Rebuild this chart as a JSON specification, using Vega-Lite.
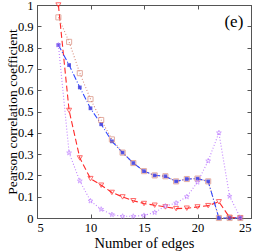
{
  "$schema": "https://vega.github.io/schema/vega-lite/v6.json",
  "width": 214,
  "height": 213,
  "autosize": {"type": "none"},
  "padding": {"left": 37, "top": 5, "right": 6, "bottom": 33},
  "config": {
    "view": {"stroke": "#555", "strokeWidth": 1},
    "font": "Liberation Serif",
    "axis": {
      "grid": false,
      "domainColor": "#555",
      "tickColor": "#555",
      "labelFont": "Liberation Serif",
      "titleFont": "Liberation Serif",
      "labelFontSize": 12.5,
      "titleFontSize": 14.5,
      "labelColor": "#000",
      "titleColor": "#000",
      "titleFontWeight": "normal",
      "tickSize": -4
    }
  },
  "datasets": {
    "d": [
      {"edges": 7, "series": "A", "r": 1.0}, {"edges": 8, "series": "A", "r": 0.505}, {"edges": 9, "series": "A", "r": 0.282}, {"edges": 10, "series": "A", "r": 0.185}, {"edges": 11, "series": "A", "r": 0.154}, {"edges": 12, "series": "A", "r": 0.12}, {"edges": 13, "series": "A", "r": 0.099}, {"edges": 14, "series": "A", "r": 0.081}, {"edges": 15, "series": "A", "r": 0.068}, {"edges": 16, "series": "A", "r": 0.06}, {"edges": 17, "series": "A", "r": 0.052}, {"edges": 18, "series": "A", "r": 0.044}, {"edges": 19, "series": "A", "r": 0.046}, {"edges": 20, "series": "A", "r": 0.052}, {"edges": 21, "series": "A", "r": 0.058}, {"edges": 22, "series": "A", "r": 0.076}, {"edges": 23, "series": "A", "r": 0.003}, {"edges": 24, "series": "A", "r": 0.0},
      {"edges": 7, "series": "B", "r": 0.942}, {"edges": 8, "series": "B", "r": 0.827}, {"edges": 9, "series": "B", "r": 0.68}, {"edges": 10, "series": "B", "r": 0.558}, {"edges": 11, "series": "B", "r": 0.46}, {"edges": 12, "series": "B", "r": 0.369}, {"edges": 13, "series": "B", "r": 0.307}, {"edges": 14, "series": "B", "r": 0.258}, {"edges": 15, "series": "B", "r": 0.22}, {"edges": 16, "series": "B", "r": 0.2}, {"edges": 17, "series": "B", "r": 0.196}, {"edges": 18, "series": "B", "r": 0.172}, {"edges": 19, "series": "B", "r": 0.183}, {"edges": 20, "series": "B", "r": 0.185}, {"edges": 21, "series": "B", "r": 0.172}, {"edges": 22, "series": "B", "r": 0.0}, {"edges": 23, "series": "B", "r": 0.0}, {"edges": 24, "series": "B", "r": 0.0},
      {"edges": 7, "series": "C", "r": 0.812}, {"edges": 8, "series": "C", "r": 0.718}, {"edges": 9, "series": "C", "r": 0.613}, {"edges": 10, "series": "C", "r": 0.515}, {"edges": 11, "series": "C", "r": 0.44}, {"edges": 12, "series": "C", "r": 0.36}, {"edges": 13, "series": "C", "r": 0.307}, {"edges": 14, "series": "C", "r": 0.258}, {"edges": 15, "series": "C", "r": 0.22}, {"edges": 16, "series": "C", "r": 0.2}, {"edges": 17, "series": "C", "r": 0.196}, {"edges": 18, "series": "C", "r": 0.172}, {"edges": 19, "series": "C", "r": 0.183}, {"edges": 20, "series": "C", "r": 0.185}, {"edges": 21, "series": "C", "r": 0.172}, {"edges": 22, "series": "C", "r": 0.0}, {"edges": 23, "series": "C", "r": 0.0}, {"edges": 24, "series": "C", "r": 0.0},
      {"edges": 7, "series": "D", "r": 0.812}, {"edges": 8, "series": "D", "r": 0.306}, {"edges": 9, "series": "D", "r": 0.174}, {"edges": 10, "series": "D", "r": 0.08}, {"edges": 11, "series": "D", "r": 0.041}, {"edges": 12, "series": "D", "r": 0.016}, {"edges": 13, "series": "D", "r": 0.008}, {"edges": 14, "series": "D", "r": 0.008}, {"edges": 15, "series": "D", "r": 0.012}, {"edges": 16, "series": "D", "r": 0.026}, {"edges": 17, "series": "D", "r": 0.056}, {"edges": 18, "series": "D", "r": 0.07}, {"edges": 19, "series": "D", "r": 0.1}, {"edges": 20, "series": "D", "r": 0.168}, {"edges": 21, "series": "D", "r": 0.268}, {"edges": 22, "series": "D", "r": 0.4}, {"edges": 23, "series": "D", "r": 0.102}, {"edges": 24, "series": "D", "r": 0.002}
    ],
    "label": [{"label": "(e)"}]
  },
  "data": {"name": "d"},
  "resolve": {"axis": {"x": "independent", "y": "independent"}},
  "layer": [
    {
      "mark": {"type": "line", "strokeWidth": 1.1},
      "encoding": {
        "x": {"field": "edges", "type": "quantitative", "scale": {"domain": [5, 25], "nice": false}, "axis": {"title": "Number of edges", "values": [5, 10, 15, 20, 25], "labelPadding": 7, "titleY": 25, "titleBaseline": "middle"}},
        "y": {"field": "r", "type": "quantitative", "scale": {"domain": [0, 1], "nice": false}, "axis": {"title": "Pearson correlation coefficient", "values": [0, 0.1, 0.2, 0.3, 0.4, 0.5, 0.6, 0.7, 0.8, 0.9, 1], "format": "~g", "labelPadding": 8, "titleX": -25, "titleBaseline": "middle", "titleFontSize": 13.5}},
        "color": {"field": "series", "type": "nominal", "scale": {"domain": ["A", "B", "C", "D"], "range": ["#ff2a2a", "#d88a7a", "#3048ff", "#c080ff"]}, "legend": null},
        "strokeDash": {"field": "series", "type": "nominal", "scale": {"domain": ["A", "B", "C", "D"], "range": [[6, 3], [1, 2], [6, 2, 1, 2], [1, 2]]}, "legend": null},
        "detail": {"field": "series"}
      }
    },
    {
      "mark": {"type": "point", "filled": true, "shape": "square", "size": 14, "color": "#4a48e0", "opacity": 0.9},
      "transform": [{"filter": "datum.series == 'C'"}],
      "encoding": {
        "x": {"field": "edges", "type": "quantitative", "scale": {"domain": [5, 25], "nice": false}, "axis": null},
        "y": {"field": "r", "type": "quantitative", "scale": {"domain": [0, 1], "nice": false}, "axis": null}
      }
    },
    {
      "mark": {"type": "point", "filled": false, "strokeWidth": 1, "size": 26},
      "transform": [{"filter": "datum.series != 'C'"}],
      "encoding": {
        "x": {"field": "edges", "type": "quantitative", "scale": {"domain": [5, 25], "nice": false}, "axis": null},
        "y": {"field": "r", "type": "quantitative", "scale": {"domain": [0, 1], "nice": false}, "axis": null},
        "color": {"field": "series", "type": "nominal", "scale": {"domain": ["A", "B", "C", "D"], "range": ["#ff2a2a", "#c8604a", "#3048ff", "#a050f0"]}, "legend": null},
        "shape": {"field": "series", "type": "nominal", "scale": {"domain": ["A", "B", "D"], "range": ["triangle-down", "square", "M0,-1L0.235,-0.324L0.951,-0.309L0.38,0.124L0.588,0.809L0,0.4L-0.588,0.809L-0.38,0.124L-0.951,-0.309L-0.235,-0.324Z"]}, "legend": null}
      }
    },
    {
      "mark": {"type": "line", "opacity": 0},
      "encoding": {
        "x": {"field": "edges", "type": "quantitative", "scale": {"domain": [5, 25], "nice": false}, "axis": {"orient": "top", "labels": false, "title": null, "values": [5, 10, 15, 20, 25]}},
        "y": {"field": "r", "type": "quantitative", "scale": {"domain": [0, 1], "nice": false}, "axis": {"orient": "right", "labels": false, "title": null, "values": [0, 0.1, 0.2, 0.3, 0.4, 0.5, 0.6, 0.7, 0.8, 0.9, 1]}},
        "detail": {"field": "series"}
      }
    },
    {
      "data": {"name": "label"},
      "mark": {"type": "text", "fontSize": 17, "font": "Liberation Serif", "fontWeight": "normal", "color": "#000"},
      "encoding": {
        "x": {"datum": 23.4, "type": "quantitative", "scale": {"domain": [5, 25], "nice": false}, "axis": null},
        "y": {"datum": 0.92, "type": "quantitative", "scale": {"domain": [0, 1], "nice": false}, "axis": null},
        "text": {"field": "label"}
      }
    }
  ]
}
